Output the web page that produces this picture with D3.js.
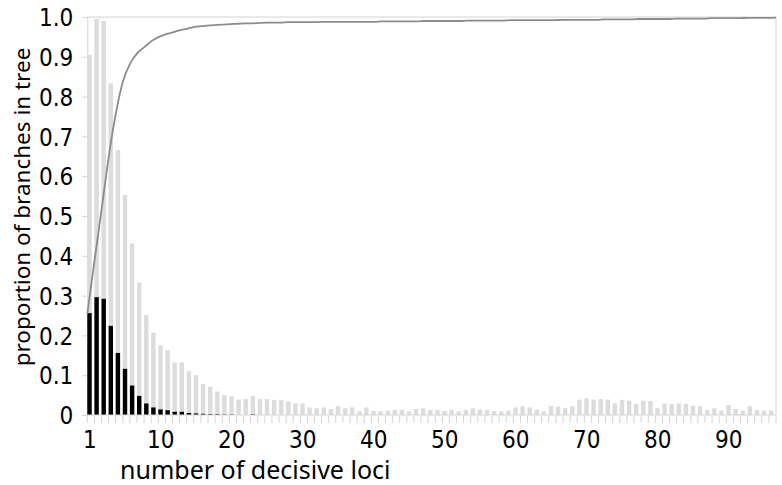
<!DOCTYPE html>
<html>
<head>
<meta charset="utf-8">
<script src="https://cdn.jsdelivr.net/npm/d3@7"></script>
<style>
  body { margin: 0; background: #fff; }
  svg { display: block; }
</style>
</head>
<body>
<svg></svg>
<script>
// category index 0..96 (index 0 labelled "1")
const loci = d3.range(97);

// light grey bars
const greyValues = [
  0.905, 0.995, 0.990, 0.833, 0.666, 0.553, 0.431, 0.333, 0.251, 0.207,
  0.175, 0.163, 0.132, 0.132, 0.110, 0.100, 0.078, 0.071, 0.059, 0.050,
  0.047, 0.039, 0.040, 0.048, 0.040, 0.040, 0.038, 0.037, 0.034, 0.029,
  0.029, 0.019, 0.017, 0.019, 0.015, 0.022, 0.017, 0.019, 0.009, 0.019,
  0.010, 0.009, 0.011, 0.013, 0.013, 0.009, 0.015, 0.017, 0.013, 0.0125,
  0.010, 0.0125, 0.009, 0.013, 0.017, 0.014, 0.013, 0.010, 0.009, 0.011,
  0.019, 0.022, 0.019, 0.013, 0.009, 0.023, 0.021, 0.017, 0.022, 0.0385,
  0.042, 0.0385, 0.040, 0.0385, 0.029, 0.038, 0.036, 0.028, 0.036, 0.035,
  0.017, 0.029, 0.028, 0.029, 0.028, 0.023, 0.022, 0.013, 0.017, 0.011,
  0.025, 0.015, 0.011, 0.022, 0.0125, 0.011, 0.011
];

// black bars
const blackValues = [
  0.256, 0.296, 0.292, 0.224, 0.156, 0.116, 0.074, 0.048, 0.029, 0.019,
  0.014, 0.012, 0.008, 0.008, 0.005, 0.004, 0.003, 0.002, 0.002, 0.001,
  0.001, 0, 0, 0.0015, 0, 0, 0, 0, 0, 0,
  0, 0, 0, 0, 0, 0, 0, 0, 0, 0,
  0, 0, 0, 0, 0, 0, 0, 0, 0, 0,
  0, 0, 0, 0, 0, 0, 0, 0, 0, 0,
  0, 0, 0, 0, 0, 0, 0, 0, 0, 0,
  0, 0, 0, 0, 0, 0, 0, 0, 0, 0,
  0, 0, 0, 0, 0, 0, 0, 0, 0, 0,
  0, 0, 0, 0, 0, 0, 0
];

// grey cumulative line
const lineValues = [
  0.254, 0.387, 0.518, 0.650, 0.760, 0.840, 0.884, 0.910, 0.925, 0.940,
  0.950, 0.957, 0.962, 0.967, 0.971, 0.975, 0.977, 0.979, 0.980, 0.981,
  0.982, 0.983, 0.984, 0.984, 0.985, 0.986, 0.986, 0.986, 0.987, 0.987,
  0.987, 0.987, 0.987, 0.988, 0.988, 0.988, 0.988, 0.988, 0.988, 0.988,
  0.988, 0.989, 0.989, 0.989, 0.989, 0.989, 0.989, 0.990, 0.990, 0.990,
  0.990, 0.990, 0.990, 0.991, 0.991, 0.991, 0.991, 0.991, 0.991, 0.992,
  0.992, 0.992, 0.992, 0.992, 0.992, 0.992, 0.993, 0.993, 0.993, 0.993,
  0.993, 0.993, 0.994, 0.994, 0.994, 0.994, 0.994, 0.995, 0.995, 0.995,
  0.995, 0.995, 0.996, 0.996, 0.996, 0.996, 0.996, 0.997, 0.997, 0.997,
  0.997, 0.997, 0.998, 0.998, 0.998, 0.998, 0.9985
];

const xTickIndex = [0, 10, 20, 30, 40, 50, 60, 70, 80, 90];
const xTickLabels = ["1", "10", "20", "30", "40", "50", "60", "70", "80", "90"];
const yTicks = [0, 0.1, 0.2, 0.3, 0.4, 0.5, 0.6, 0.7, 0.8, 0.9, 1.0];

const width = 782, height = 485;
const m = { left: 87.3, right: 776, top: 17, bottom: 415 };

const svg = d3.select("svg")
    .attr("width", width)
    .attr("height", height);

const x = d3.scaleBand()
    .domain(loci)
    .range([m.left, m.right])
    .padding(0);

const xLine = d3.scalePoint()
    .domain(loci)
    .range([m.left, m.right]);

const y = d3.scaleLinear()
    .domain([0, 1])
    .range([m.bottom, m.top]);

const axisColor = "#d4d4d4";
const tickFont = "'Liberation Sans Narrow', 'Arial Narrow', 'DejaVu Sans Condensed', sans-serif";

// plot box (top and right edges)
svg.append("path")
    .attr("d", `M${m.left},${m.top}H${m.right}V${m.bottom}`)
    .attr("fill", "none")
    .attr("stroke", axisColor)
    .attr("stroke-width", 1);

// y axis
const yAxis = svg.append("g")
    .attr("transform", `translate(${m.left},0)`)
    .call(d3.axisLeft(y)
        .tickValues(yTicks)
        .tickSize(5)
        .tickPadding(9)
        .tickFormat(d => d === 0 ? "0" : d3.format(".1f")(d)));
yAxis.select(".domain").attr("stroke", axisColor);
yAxis.selectAll(".tick line").attr("stroke", axisColor);
yAxis.selectAll(".tick text")
    .attr("fill", "#000")
    .style("font-family", tickFont)
    .style("font-size", "24px")
    .attr("dy", "0.36em");

// bars
const barW = x.bandwidth() * 0.62;

svg.append("g")
    .selectAll("rect")
    .data(loci)
    .join("rect")
    .attr("x", d => x(d))
    .attr("y", d => y(greyValues[d]))
    .attr("width", barW)
    .attr("height", d => y(0) - y(greyValues[d]))
    .attr("fill", "#dcdcdc");

svg.append("g")
    .selectAll("rect")
    .data(loci.filter(d => blackValues[d] > 0))
    .join("rect")
    .attr("x", d => x(d))
    .attr("y", d => y(blackValues[d]))
    .attr("width", barW)
    .attr("height", d => y(0) - y(blackValues[d]))
    .attr("fill", "#000");

// x axis: ticks at category boundaries, labels at chosen categories
const xg = svg.append("g").attr("transform", `translate(0,${m.bottom})`);
xg.append("line")
    .attr("x1", m.left).attr("x2", m.right)
    .attr("stroke", axisColor);
xg.selectAll("line.tk")
    .data(loci.concat([loci.length]))
    .join("line")
    .attr("class", "tk")
    .attr("x1", d => d < loci.length ? x(d) : m.right)
    .attr("x2", d => d < loci.length ? x(d) : m.right)
    .attr("y1", 1).attr("y2", 8)
    .attr("stroke", axisColor);
xg.selectAll("text")
    .data(xTickIndex)
    .join("text")
    .attr("x", d => x(d) + x.bandwidth() / 2 - 1)
    .attr("y", 33)
    .attr("text-anchor", "middle")
    .style("font-family", tickFont)
    .style("font-size", "24px")
    .text((d, i) => xTickLabels[i]);

// cumulative line
svg.append("path")
    .datum(loci)
    .attr("fill", "none")
    .attr("stroke", "#8c8c8c")
    .attr("stroke-width", 1.8)
    .attr("d", d3.line()
        .x(d => xLine(d))
        .y(d => y(lineValues[d]))
        .curve(d3.curveMonotoneX));

// axis titles
const titleFont = "'Noto Sans', 'Open Sans', sans-serif";
svg.append("text")
    .attr("x", 120)
    .attr("y", 479)
    .style("font-family", titleFont)
    .style("font-size", "25px")
    .text("number of decisive loci");

svg.append("text")
    .attr("transform", "translate(30,207) rotate(-90)")
    .attr("text-anchor", "middle")
    .style("font-family", titleFont)
    .style("font-size", "22.5px")
    .text("proportion of branches in tree");
</script>
</body>
</html>
